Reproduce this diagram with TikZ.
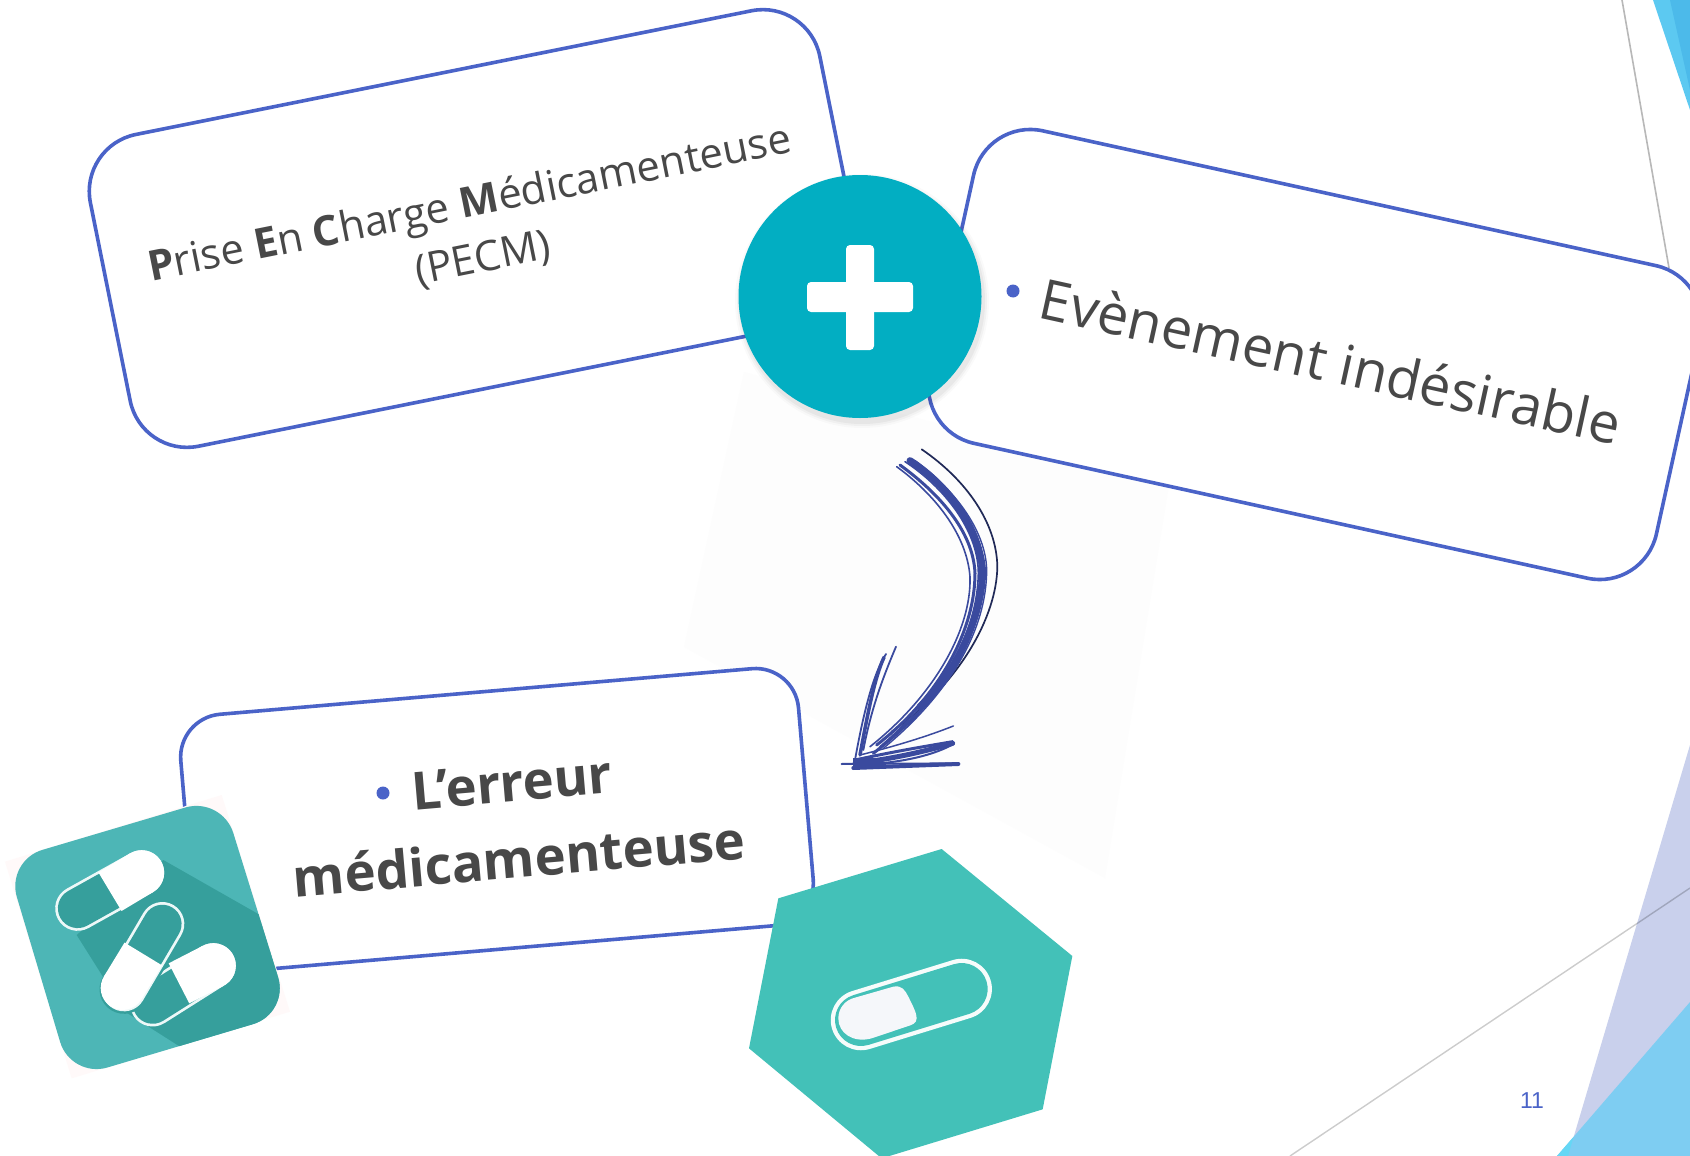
\documentclass[tikz,border=0pt]{standalone}
\usepackage{fontspec}
\setmainfont{Open Sans}
\newfontfamily\numfont{Liberation Sans}
\definecolor{boxblue}{HTML}{4A63C8}
\definecolor{txtgrey}{HTML}{484848}
\definecolor{plusteal}{HTML}{02AEC2}
\definecolor{iconbase}{HTML}{4DB6B6}
\definecolor{iconshade}{HTML}{369F9C}
\definecolor{hexteal}{HTML}{43C1B8}
\definecolor{penblue}{HTML}{3A4A9E}
\definecolor{lilac}{HTML}{C9D0EC}
\definecolor{skyblue}{HTML}{7ECDF2}
\definecolor{topblue}{HTML}{5CC9F1}
\definecolor{topblueb}{HTML}{4CBAEA}
\definecolor{paper}{HTML}{FDFDFD}
\definecolor{pillpale}{HTML}{F5F7FA}
\tikzset{
  card/.style={draw=boxblue,line width=3.6pt,fill=white,rounded corners=58pt,inner sep=0pt,outer sep=0pt,minimum width=744pt,minimum height=318pt},
  cardtext/.style={text=txtgrey,inner sep=0pt,align=center},
  pen/.style={draw=penblue,line cap=round,line width=2pt},
  zoomA/.style={shift={(0pt,-780pt)},x=.33333pt,y=-.33333pt},
  zoomB/.style={shift={(730pt,-830pt)},x=.33333pt,y=-.33333pt},
  zoomC/.style={shift={(820pt,-430pt)},x=.33333pt,y=-.33333pt},
}
\begin{document}
\begin{tikzpicture}[x=1pt,y=-1pt]
\useasboundingbox (0,0) rectangle (1690,1156);
\clip (0,0) rectangle (1690,1156);
\fill[white] (0,0) rectangle (1690,1156);
% slide decoration
\fill[topblue] (1653,0) -- (1690,110) -- (1690,0) -- cycle;
\fill[topblueb] (1670,0) -- (1690,90) -- (1690,0) -- cycle;
\draw[black!28,line width=1.6pt] (1622,0) -- (1669,268);
\fill[lilac] (1690,745) -- (1568,1156) -- (1690,1156) -- cycle;
\fill[skyblue] (1690,1002) -- (1557,1156) -- (1690,1156) -- cycle;
\fill[skyblue!80!cyan] (1573.5,1137) -- (1568,1156) -- (1557,1156) -- cycle;
\draw[black,opacity=.2,line width=1.4pt] (1290,1156) -- (1690,888);
\node[text=boxblue,inner sep=0pt,font=\numfont\fontsize{23}{26}\selectfont] (pagenum) at (1532,1101) {11};
% pale paper of the scan
\fill[paper] (744,372) -- (1169,485) -- (1105,878) -- (684,647) -- cycle;
% cards
\node[card,rotate=11.36] (pecm) at (475,228.5) {};
\node[card,rotate=-12.4,minimum height=320pt] (ei) at (1315,354.5) {};
\node[card,rotate=4.9,minimum width=620pt,minimum height=258pt,rounded corners=43pt] (em) at (497,820) {};
% card texts
\node[cardtext,rotate=11.36,font=\fontsize{41.8}{48}\selectfont] (pecmA) at (470,206) {\textbf{P}rise \textbf{E}n \textbf{C}harge \textbf{M}édicamenteuse};
\node[cardtext,rotate=11.36,font=\fontsize{41.8}{48}\selectfont] (pecmB) at (483,260) {(PECM)};
\node[cardtext,rotate=-12.4,font=\fontsize{55.7}{62}\selectfont] (eiT) at (1331,361) {Evènement indésirable};
\node[fill=boxblue,circle,minimum size=13pt,inner sep=0pt] (eiB) at (1013,291) {};
\node[cardtext,rotate=4.9,font=\bfseries\fontsize{52.6}{62}\selectfont] (emA) at (512,783) {L’erreur};
\node[cardtext,rotate=4.9,font=\bfseries\fontsize{52.6}{62}\selectfont] (emB) at (519,858) {médicamenteuse};
\node[fill=boxblue,circle,minimum size=13pt,inner sep=0pt] (emC) at (383,793) {};
% plus disc
\foreach \r/\o in {127/.02,125/.03,123/.04}{\fill[black,opacity=\o] (862,301) circle (\r pt);}
\node[circle,fill=plusteal,minimum size=243pt,inner sep=0pt,outer sep=0pt] (plus) at (860,296.5) {};
\fill[white,rounded corners=4pt] (807,282) rectangle (913,312);
\fill[white,rounded corners=4pt] (846,245) rectangle (874,350);
% hand drawn arrow
\begin{scope}[zoomC]
\draw[pen,line width=1.7pt,black!45!penblue] (305,58) .. controls (440,150) and (530,280) .. (532,410) .. controls (530,560) and (420,760) .. (215,905);
\draw[pen,line width=1.6pt] (230,110) .. controls (340,190) and (440,310) .. (450,440) .. controls (455,600) and (340,800) .. (150,950);
\draw[pen,line width=3pt] (240,105) .. controls (350,185) and (460,300) .. (465,430) .. controls (465,590) and (370,790) .. (170,945);
\draw[pen,line width=7pt] (270,92) .. controls (390,170) and (480,300) .. (488,425) .. controls (485,570) and (400,740) .. (300,830);
\draw[pen,line width=1.6pt] (255,95) .. controls (370,170) and (475,300) .. (475,430) .. controls (472,590) and (390,770) .. (180,950);
\draw[pen,line width=1.4pt] (285,92) .. controls (400,175) and (498,300) .. (500,420) .. controls (500,600) and (390,790) .. (190,955);
\draw[pen,line width=3pt] (420,680) .. controls (370,770) and (300,860) .. (160,970);
% head
\draw[pen,line width=2pt] (65,1002) -- (415,1000);
\draw[pen,line width=4pt] (100,1014) -- (415,1002);
\draw[pen,line width=5pt] (105,1000) .. controls (230,985) and (330,960) .. (398,940);
\draw[pen,line width=3pt] (105,990) .. controls (220,965) and (310,950) .. (398,935);
\draw[pen,line width=1.5pt] (120,975) .. controls (220,950) and (320,920) .. (400,888);
\draw[pen,line width=2pt] (110,1005) .. controls (230,1000) and (330,980) .. (395,945);
\draw[pen,line width=1.8pt] (105,990) .. controls (130,850) and (160,730) .. (198,672);
\draw[pen,line width=3.5pt] (120,975) .. controls (145,840) and (165,740) .. (192,682);
\draw[pen,line width=1.8pt] (130,960) .. controls (155,830) and (190,740) .. (228,650);
\fill[penblue] (100,985) -- (190,985) -- (190,1016) -- (100,1016) -- cycle;
\end{scope}
% capsule icon on the left
\begin{scope}[zoomA]
\fill[pink!10!white] (15,245) -- (665,45) -- (870,695) -- (215,895) -- cycle;
\path[rounded corners=38pt,fill=iconbase] (18,242) -- (666,50) -- (868,700) -- (213,895) -- cycle;
\begin{scope}
\clip[rounded corners=38pt] (18,242) -- (666,50) -- (868,700) -- (213,895) -- cycle;
\fill[iconshade] (490,240) -- (780,405) -- (900,500) -- (900,730) -- (540,800) -- (375,695) -- (230,465) -- cycle;
\end{scope}
% pill one
\draw[white!90!iconbase,line width=45pt,line cap=round] (233,385) -- (425,278);
\draw[iconshade,line width=39.5pt,line cap=round] (233,385) -- (425,278);
\draw[white,line width=45pt,line cap=butt] (330,335) -- (425,278);
\fill[white] (425,278) circle (22.5pt);
% pill three
\draw[white!90!iconbase,line width=45pt,line cap=round] (458,672) -- (640,557);
\draw[iconshade,line width=39.5pt,line cap=round] (458,672) -- (640,557);
\draw[white,line width=45pt,line cap=butt] (537,610) -- (640,557);
\fill[white] (640,557) circle (22.5pt);
% pill two
\draw[iconshade,line width=49pt,line cap=round] (372,628) -- (487,432);
\draw[white!90!iconbase,line width=44pt,line cap=round] (372,628) -- (487,432);
\draw[iconshade,line width=38.5pt,line cap=round] (372,628) -- (487,432);
\draw[white,line width=44pt,line cap=butt] (368,624) -- (430,522);
\fill[white] (368,624) circle (22pt);
\end{scope}
% hexagon
\begin{scope}[zoomB]
\fill[hexteal] (635,57) -- (1027,378) -- (938,838) -- (455,985) -- (57,655) -- (145,205) -- cycle;
\draw[white!95!hexteal,line width=60.5pt,line cap=round] (393,570) -- (695,477);
\draw[hexteal,line width=52pt,line cap=round] (393,570) -- (695,477);
\fill[pillpale] (375,503) -- (490,470) .. controls (515,465) and (525,480) .. (535,500) .. controls (550,530) and (560,550) .. (560,565) .. controls (560,580) and (545,585) .. (535,588) -- (425,625) .. controls (370,640) and (325,610) .. (325,565) .. controls (325,535) and (345,510) .. (375,503) -- cycle;
\end{scope}
\end{tikzpicture}
\end{document}
